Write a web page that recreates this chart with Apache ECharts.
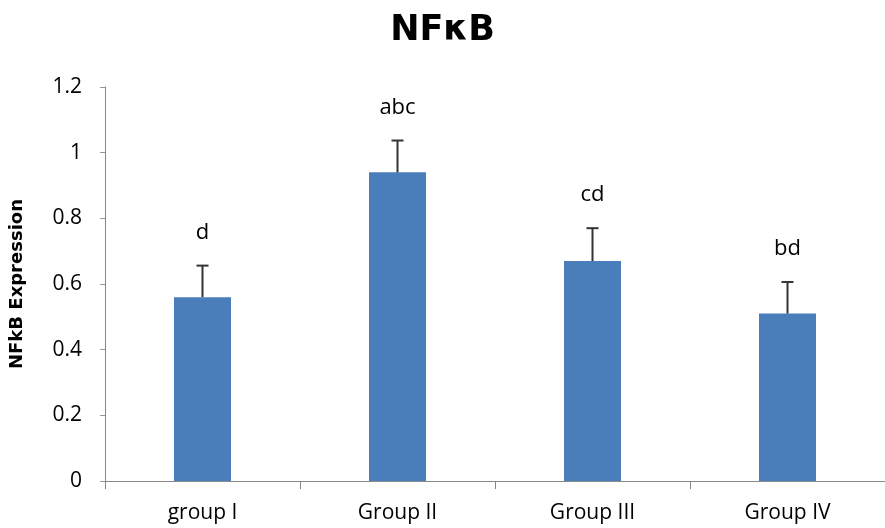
<!DOCTYPE html>
<html><head><meta charset="utf-8">
<script src="https://cdn.jsdelivr.net/npm/echarts@6/dist/echarts.min.js"></script>
<style>html,body{margin:0;padding:0;background:#fff}#c{width:885px;height:528px}</style>
</head><body><div id="c"></div>
<script>
var categories = ['group I', 'Group II', 'Group III', 'Group IV'];
var means = [0.56, 0.94, 0.67, 0.51];
var errors = [0.096, 0.097, 0.10, 0.096];
var letters = ['d', 'abc', 'cd', 'bd'];
var yTicks = [0, 0.2, 0.4, 0.6, 0.8, 1, 1.2];

var FONT = '"Open Sans", sans-serif';
var BOLD = '"DejaVu Sans", sans-serif';
var chart = echarts.init(document.getElementById('c'));
chart.setOption({
  animation: false,
  title: { text: 'NFκB', left: 'center', top: 8,
    textStyle: { fontFamily: BOLD, fontWeight: 'bold', fontSize: 35, color: '#000' } },
  grid: { left: 104, right: -9, top: 87, bottom: 47, containLabel: false },
  xAxis: {
    type: 'category', data: categories,
    axisLine: { lineStyle: { color: '#888', width: 1 } },
    axisTick: { show: true, length: 8, lineStyle: { color: '#888' } },
    axisLabel: { fontFamily: FONT, fontSize: 21, color: '#000', margin: 22 }
  },
  yAxis: {
    type: 'value', min: 0, max: 1.2, interval: 0.2,
    name: 'NFkB Expression', nameLocation: 'middle', nameGap: 79, nameRotate: 90,
    nameTextStyle: { fontFamily: BOLD, fontWeight: 'bold', fontSize: 18, color: '#000' },
    axisLine: { show: true, lineStyle: { color: '#888' } },
    axisTick: { show: true, length: 5, lineStyle: { color: '#999' } },
    splitLine: { show: false },
    axisLabel: { fontFamily: FONT, fontSize: 21, color: '#000', margin: 23,
      formatter: function (v) { return String(Math.round(v * 10) / 10); } }
  },
  series: [
    { type: 'bar', data: means, barWidth: 57, itemStyle: { color: '#4a7ebb' }, z: 2 },
    {
      type: 'custom', z: 3,
      data: means.map(function (m, i) { return [i, m, m + errors[i]]; }),
      renderItem: function (params, api) {
        var base = api.coord([api.value(0), api.value(1)]);
        var top = api.coord([api.value(0), api.value(2)]);
        var half = 6;
        return { type: 'group', children: [
          { type: 'line', shape: { x1: base[0], y1: base[1], x2: top[0], y2: top[1] }, style: { stroke: '#333', lineWidth: 2 } },
          { type: 'line', shape: { x1: top[0] - half, y1: top[1], x2: top[0] + half, y2: top[1] }, style: { stroke: '#333', lineWidth: 2 } },
          { type: 'text', x: top[0], y: top[1] - 33, style: { text: letters[params.dataIndex], fontFamily: FONT, fontSize: 22, fill: '#000', align: 'center', verticalAlign: 'middle' } }
        ] };
      }
    }
  ]
});
</script></body></html>
